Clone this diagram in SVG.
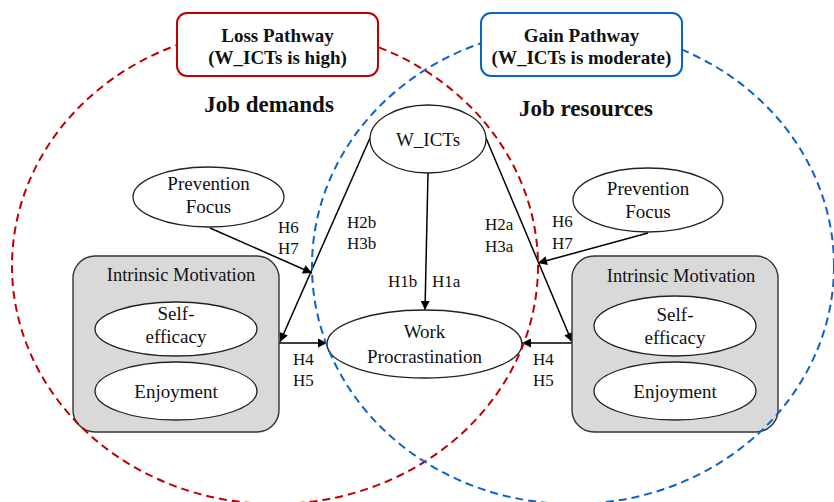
<svg xmlns="http://www.w3.org/2000/svg" width="834" height="502" viewBox="0 0 834 502" font-family="'Liberation Serif', 'DejaVu Serif', serif">
  <defs>
    <marker id="arrow" viewBox="0 0 10 10" refX="10" refY="5" markerWidth="10" markerHeight="9" markerUnits="userSpaceOnUse" orient="auto">
      <path d="M0,0 L10,5 L0,10 z" fill="#000"/>
    </marker>
  </defs>
  <style>
    svg text { font-family: 'Liberation Serif', 'DejaVu Serif', serif; fill: #111; }
    .node { fill: #fff; stroke: #222; stroke-width: 1.3; }
    .group { fill: #d9d9d9; stroke: #333; stroke-width: 1.4; }
    .lbl { font-size: 19px; text-anchor: middle; }
    .hyp { font-size: 17px; }
    .head { font-size: 23px; font-weight: bold; text-anchor: middle; }
    .path-title { font-size: 19px; font-weight: bold; text-anchor: middle; }
    .edge { stroke: #000; stroke-width: 1.5; fill: none; marker-end: url(#arrow); }
    .zone { fill: none; stroke-width: 2; stroke-dasharray: 8 5; }
  </style>

  <rect width="834" height="502" fill="#fff"/>

  <!-- Section headings -->
  <text class="head" x="269" y="112">Job demands</text>
  <text class="head" x="586" y="116">Job resources</text>

  <!-- Connectors -->
  <g id="connectors">
    <line class="edge" x1="428" y1="173" x2="425" y2="310"/>
    <line class="edge" x1="370" y1="138" x2="280" y2="342"/>
    <line class="edge" x1="486" y1="138" x2="572" y2="342"/>
    <line class="edge" x1="210" y1="228" x2="312" y2="273"/>
    <line class="edge" x1="648" y1="233" x2="538" y2="263"/>
    <line class="edge" x1="279" y1="343" x2="327" y2="343"/>
    <line class="edge" x1="572" y1="343" x2="522" y2="343"/>
  </g>

  <!-- Hypothesis labels -->
  <g id="hypotheses" class="hyp">
    <text x="278" y="233">H6</text>
    <text x="278" y="254">H7</text>
    <text x="347" y="228">H2b</text>
    <text x="347" y="249">H3b</text>
    <text x="388" y="287">H1b</text>
    <text x="432" y="287">H1a</text>
    <text x="485" y="230">H2a</text>
    <text x="485" y="252">H3a</text>
    <text x="552" y="227">H6</text>
    <text x="552" y="249">H7</text>
    <text x="293" y="365">H4</text>
    <text x="293" y="386">H5</text>
    <text x="533" y="365">H4</text>
    <text x="533" y="386">H5</text>
  </g>

  <!-- Nodes -->
  <g id="w-icts">
    <ellipse class="node" cx="428" cy="139" rx="58" ry="34"/>
    <text class="lbl" x="428" y="146">W_ICTs</text>
  </g>

  <g id="work-procrastination">
    <ellipse class="node" cx="424.5" cy="344" rx="97.5" ry="34"/>
    <text class="lbl" x="424.5" y="338">Work</text>
    <text class="lbl" x="424.5" y="363">Procrastination</text>
  </g>

  <g id="prevention-focus-left">
    <ellipse class="node" cx="208.5" cy="197" rx="75.5" ry="30"/>
    <text class="lbl" x="208.5" y="190">Prevention</text>
    <text class="lbl" x="208.5" y="213">Focus</text>
  </g>

  <g id="prevention-focus-right">
    <ellipse class="node" cx="648" cy="200" rx="75" ry="32"/>
    <text class="lbl" x="648" y="195">Prevention</text>
    <text class="lbl" x="648" y="218">Focus</text>
  </g>

  <g id="intrinsic-motivation-left">
    <rect class="group" x="73" y="256" width="206" height="176" rx="22"/>
    <text class="lbl" x="181" y="281" style="font-size:18.5px">Intrinsic Motivation</text>
    <g id="self-efficacy-left">
      <ellipse class="node" cx="176" cy="329" rx="81" ry="27"/>
      <text class="lbl" x="176" y="320">Self-</text>
      <text class="lbl" x="176" y="343">efficacy</text>
    </g>
    <g id="enjoyment-left">
      <ellipse class="node" cx="176" cy="391" rx="81" ry="29"/>
      <text class="lbl" x="176" y="398">Enjoyment</text>
    </g>
  </g>

  <g id="intrinsic-motivation-right">
    <rect class="group" x="572" y="256" width="206" height="176" rx="22"/>
    <text class="lbl" x="681" y="282" style="font-size:18.5px">Intrinsic Motivation</text>
    <g id="self-efficacy-right">
      <ellipse class="node" cx="675" cy="326" rx="81" ry="30"/>
      <text class="lbl" x="675" y="321">Self-</text>
      <text class="lbl" x="675" y="344">efficacy</text>
    </g>
    <g id="enjoyment-right">
      <ellipse class="node" cx="675" cy="391" rx="81" ry="29"/>
      <text class="lbl" x="675" y="398">Enjoyment</text>
    </g>
  </g>

  <!-- Pathway zones -->
  <ellipse class="zone" cx="275" cy="266" rx="263" ry="238" stroke="#c00000"/>
  <ellipse class="zone" cx="573" cy="266" rx="261" ry="238" stroke="#0a64c8"/>

  <g id="loss-pathway">
    <rect x="177" y="13" width="201" height="63" rx="10" fill="#fff" stroke="#c00000" stroke-width="2"/>
    <text class="path-title" x="277.5" y="42">Loss Pathway</text>
    <text class="path-title" x="277.5" y="64">(W_ICTs is high)</text>
  </g>

  <g id="gain-pathway">
    <rect x="481" y="13" width="201" height="63" rx="10" fill="#fff" stroke="#0a64c8" stroke-width="2"/>
    <text class="path-title" x="581.5" y="42">Gain Pathway</text>
    <text class="path-title" x="581.5" y="64">(W_ICTs is moderate)</text>
  </g>
</svg>
